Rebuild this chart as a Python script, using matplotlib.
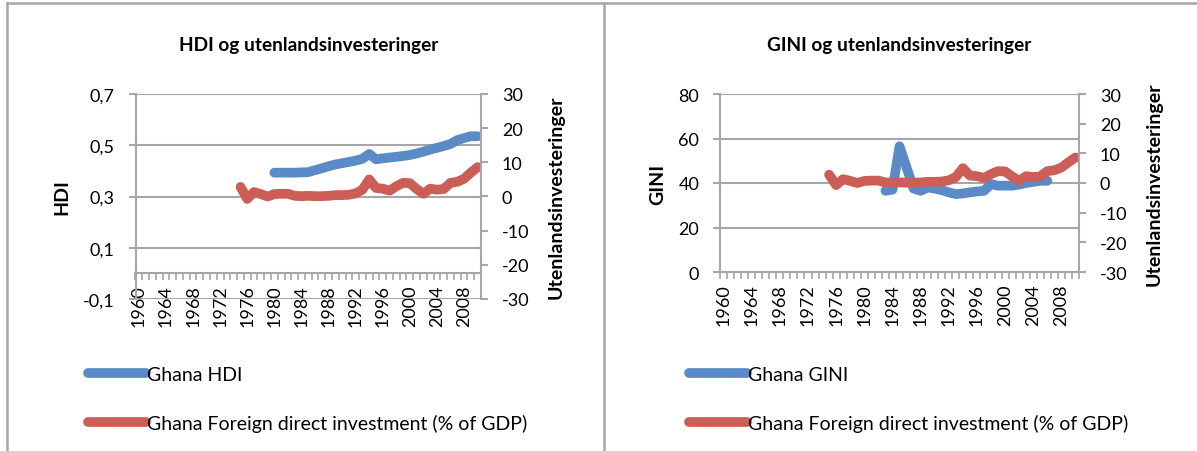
import numpy as np
import matplotlib
matplotlib.use('Agg')
import matplotlib.pyplot as plt
from matplotlib.lines import Line2D

plt.rcParams['font.family'] = ['Lato', 'DejaVu Sans']
plt.rcParams['axes.unicode_minus'] = False

## Data ##
years = np.arange(1960, 2011)
year_labels = [str(y) for y in range(1960, 2009, 4)]

hdi_years = np.arange(1980, 2011)
hdi = [0.393, 0.393, 0.393, 0.393, 0.394, 0.395, 0.403, 0.410, 0.418, 0.425,
       0.430, 0.435, 0.440, 0.447, 0.466, 0.445, 0.449, 0.452, 0.455, 0.458,
       0.462, 0.468, 0.475, 0.483, 0.490, 0.497, 0.505, 0.520, 0.528, 0.535,
       0.535]

gini_years = np.arange(1983, 2007)
gini = [36.5, 37.0, 56.5, 47.0, 37.5, 36.5, 38.0, 37.5, 36.8, 35.8,
        35.0, 35.3, 35.8, 36.2, 36.5, 39.5, 38.8, 38.8, 38.8, 39.3,
        40.0, 40.5, 41.0, 41.0]

fdi_years = np.arange(1975, 2011)
fdi = [2.8, -0.7, 1.3, 0.7, 0.0, 0.7, 0.8, 0.8, 0.2, 0.1,
       0.2, 0.1, 0.1, 0.2, 0.4, 0.4, 0.5, 0.9, 2.0, 5.0,
       2.5, 2.3, 1.7, 3.0, 4.0, 3.9, 2.2, 0.8, 2.3, 2.0,
       2.2, 4.0, 4.3, 5.2, 7.0, 8.6]

BLUE = '#5A8BC7'
RED = '#CB5E56'
GREY = '#A6A6A6'
W, H = 1197, 452
TICK_FS = 13
LAB_FS = 14
TITLE_FS = 13.7
LEG_FS = 14


def box(l, t, r, b):
    return [l / W, 1 - b / H, (r - l) / W, (b - t) / H]


def panel(fig, rect, ylim, yticks, yfmt, ylabel, title, sname, sx, sy, cross,
          leg_xy):
    ax = fig.add_axes(rect)
    ax.set_xlim(1959.5, 2010.5)
    ax.set_ylim(*ylim)
    ax.set_yticks(yticks)
    ax.set_yticklabels([yfmt(v) for v in yticks])
    ax.yaxis.grid(True, color=GREY, lw=1.5)
    ax.set_axisbelow(True)
    for s in ['top', 'right']:
        ax.spines[s].set_visible(False)
    ax.spines['left'].set_color(GREY)
    ax.spines['left'].set_linewidth(1.5)
    ax.spines['bottom'].set_color(GREY)
    ax.spines['bottom'].set_linewidth(1.5)
    ax.spines['bottom'].set_position(('data', cross))
    ax.tick_params(axis='y', colors=GREY, labelcolor='black', length=5,
                   width=1.5, labelsize=TICK_FS, pad=10)
    # tick marks between categories, labels every fourth year
    ax.set_xticks(np.arange(1959.5, 2011, 1.0))
    ax.set_xticklabels([])
    ax.tick_params(axis='x', which='major', colors=GREY, length=5, width=1.2)
    ax.set_xticks(np.arange(1960, 2009, 4), minor=True)
    ax.set_xticklabels(year_labels, minor=True, rotation=90)
    ax.tick_params(axis='x', which='minor', length=0, labelsize=TICK_FS, pad=8)
    ax.set_ylabel(ylabel, fontsize=LAB_FS, fontweight='bold', labelpad=9)

    ax.plot(sx, sy, color=BLUE, lw=7, solid_capstyle='round',
            solid_joinstyle='round', label=sname)

    ax2 = ax.twinx()
    ax2.set_ylim(-30, 30)
    ax2.set_yticks(np.arange(-30, 31, 10))
    for s in ['top', 'left', 'bottom']:
        ax2.spines[s].set_visible(False)
    ax2.spines['right'].set_color(GREY)
    ax2.spines['right'].set_linewidth(1.5)
    ax2.tick_params(axis='y', colors=GREY, labelcolor='black', length=5,
                    width=1.5, labelsize=TICK_FS, pad=10)
    ax2.set_ylabel('Utenlandsinvesteringer', fontsize=LAB_FS, fontweight='bold',
                   labelpad=13)
    ax2.plot(fdi_years, fdi, color=RED, lw=7, solid_capstyle='round',
             solid_joinstyle='round',
             label='Ghana Foreign direct investment (% of GDP)')

    x0 = rect[0] + rect[2] / 2
    fig.text(x0, 1 - 45 / H, title, ha='center', va='center',
             fontsize=TITLE_FS, fontweight='bold')

    handles = [Line2D([], [], color=BLUE, lw=7, solid_capstyle='round'),
               Line2D([], [], color=RED, lw=7, solid_capstyle='round')]
    fig.legend(handles, [sname, 'Ghana Foreign direct investment (% of GDP)'],
               loc='upper left', bbox_to_anchor=leg_xy, frameon=False,
               fontsize=LEG_FS, handlelength=3.0, handletextpad=0.05,
               labelspacing=1.6, borderaxespad=0, borderpad=0)
    return ax, ax2


def main():
    fig = plt.figure(figsize=(W / 100, H / 100), dpi=100)

    panel(fig, box(135.5, 95, 481, 300), (-0.1, 0.7), [-0.1, 0.1, 0.3, 0.5, 0.7],
          lambda v: f'{v:.1f}'.replace('.', ','),
          'HDI', 'HDI og utenlandsinvesteringer', 'Ghana HDI',
          hdi_years, hdi, 0, (88 / W, 1 - 367 / H))

    panel(fig, box(720, 95, 1079, 273), (0, 80), [0, 20, 40, 60, 80],
          lambda v: f'{v:d}', 'GINI', 'GINI og utenlandsinvesteringer',
          'Ghana GINI', gini_years, gini, 0, (689 / W, 1 - 367 / H))

    # outer frame and divider like the spreadsheet chart objects
    for (xa, ya, xb, yb) in [(7, 4, W, 4), (7, 4, 7, H), (604, 4, 604, H)]:
        fig.add_artist(Line2D([xa / W, xb / W], [1 - ya / H, 1 - yb / H],
                              color=GREY, lw=1.8, transform=fig.transFigure))

    fig.savefig('out.png', dpi=100)
    plt.close(fig)


if __name__ == "__main__":
    main()
